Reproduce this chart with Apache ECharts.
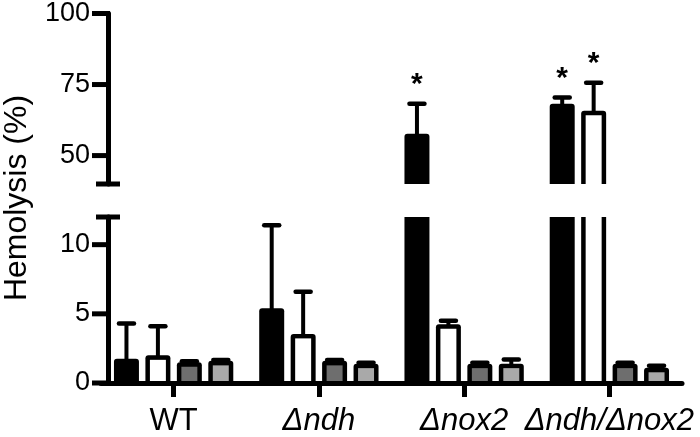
<!DOCTYPE html>
<html>
<head>
<meta charset="utf-8">
<script src="https://cdn.jsdelivr.net/npm/echarts@6/dist/echarts.min.js"></script>
<style>html,body{margin:0;padding:0;background:#fff}#c{width:700px;height:437px}</style>
</head>
<body>
<div id="c"></div>
<script>
// ---- data ----
const categories = ['WT', 'Δndh', 'Δnox2', 'Δndh/Δnox2'];
const conditionNames = ['Condition 1', 'Condition 2', 'Condition 3', 'Condition 4'];
const blackMean = [1.75, 5.4, 57.7, 68.2];
const blackSD   = [2.55, 6.0, 10.5, 2.2];
const whiteMean = [2.0, 3.55, 4.25, 65.8];
const whiteSD   = [2.1, 3.05, 0.25, 9.8];
const darkMean  = [1.5, 1.6, 1.4, 1.4];
const darkSD    = [0.08, 0.06, 0.06, 0.06];
const lightMean = [1.6, 1.4, 1.4, 1.1];
const lightSD   = [0.06, 0.06, 0.3, 0.15];
const blackSig  = [0, 0, 1, 1];
const whiteSig  = [0, 0, 0, 1];
const darkSig   = [0, 0, 0, 0];
const lightSig  = [0, 0, 0, 0];
const upperTicks = [50, 75, 100];
const lowerTicks = [0, 5, 10];
const upperRange = [40, 100];
const lowerRange = [0, 12];
const yTitle = 'Hemolysis (%)';

// ---- styling / layout ----
const FONT = '"Liberation Sans", Arial, Helvetica, sans-serif';
const fills = [null, '#ffffff', '#6e6e6e', '#a9a9a9'];
const GL = 101, GR = 18, YOFF = -7;
const grids = [
  { left: GL, right: GR, top: 13, height: 171 },
  { left: GL, right: GR, top: 217, height: 171 }
];
const ranges = [upperRange, lowerRange];

const groups = [
  [blackMean, blackSD, blackSig],
  [whiteMean, whiteSD, whiteSig],
  [darkMean, darkSD, darkSig],
  [lightMean, lightSD, lightSig]
];

function renderer(cond, g) {
  return function (params, api) {
    const cs = params.coordSys;
    const [yMin, yMax] = ranges[g];
    const cat = api.value(0), v = api.value(1), e = api.value(2), sig = api.value(3);
    if (v <= yMin) return null;
    const band = api.size([1, 0])[0];
    const cx = api.coord([cat, yMin])[0] + (cond - 1.5) * band * 0.2165;
    const w = band * 0.172;
    const base = cs.y + cs.height;
    const topVis = v <= yMax;
    const yTop = topVis ? api.coord([cat, v])[1] : cs.y;
    const ch = [];
    ch.push({ type: 'rect', shape: { x: cx - w / 2, y: yTop, width: w, height: base - yTop, r: topVis ? [3, 3, 0, 0] : 0 },
      style: { fill: '#000' } });
    if (cond > 0) {
      const bw = 4.5;
      const it = topVis ? yTop + bw : yTop;
      const ib = g === 1 ? base - 2 : base;
      ch.push({ type: 'rect', shape: { x: cx - w / 2 + bw, y: it, width: w - 2 * bw, height: Math.max(0, ib - it) },
        style: { fill: fills[cond] } });
    }
    if (topVis) {
      const et = v + e;
      if (et <= yMax) {
        const ye = api.coord([cat, et])[1];
        ch.push({ type: 'line', shape: { x1: cx, y1: yTop + 1, x2: cx, y2: ye }, style: { stroke: '#000', lineWidth: 4 } });
        ch.push({ type: 'line', shape: { x1: cx - 7.5, y1: ye, x2: cx + 7.5, y2: ye }, style: { stroke: '#000', lineWidth: 4.5, lineCap: 'round' } });
        if (sig) {
          ch.push({ type: 'text', style: { text: '*', x: cx, y: ye - 19, fill: '#000',
            font: 'bold 30px ' + FONT, align: 'center', verticalAlign: 'middle' } });
        }
      }
    }
    return { type: 'group', children: ch };
  };
}

const series = [];
groups.forEach((grp, cond) => {
  [0, 1].forEach(g => {
    series.push({
      name: conditionNames[cond],
      type: 'custom',
      xAxisIndex: g, yAxisIndex: g,
      renderItem: renderer(cond, g),
      data: categories.map((c, i) => [i, grp[0][i], grp[1][i], grp[2][i]]),
      silent: true,
      z: 3
    });
  });
});

const axisLineStyle = { color: '#000', width: 5 };
const yAxisCommon = (g, ticks) => ({
  type: 'value', gridIndex: g, min: ranges[g][0], max: ranges[g][1], offset: YOFF,
  axisLine: { show: true, lineStyle: axisLineStyle },
  axisTick: { show: false },
  axisLabel: { customValues: ticks, color: '#000', fontSize: 27, fontFamily: FONT, margin: 18 },
  splitLine: { show: false }
});

const option = {
  animation: false,
  backgroundColor: '#fff',
  grid: grids,
  xAxis: [
    { type: 'category', gridIndex: 0, data: categories, show: false },
    { type: 'category', gridIndex: 1, data: categories,
      axisLine: { show: true, lineStyle: axisLineStyle },
      axisTick: { show: true, alignWithLabel: true, length: 14, lineStyle: { color: '#000', width: 5 } },
      axisLabel: { color: '#000', fontSize: 31, fontFamily: FONT, margin: 23, interval: 0,
        formatter: v => v === 'WT' ? v : '{i|' + v + '}',
        rich: { i: { fontStyle: 'italic', fontSize: 31, fontFamily: FONT, color: '#000' } } } }
  ],
  yAxis: [yAxisCommon(0, upperTicks), yAxisCommon(1, lowerTicks)],
  series: series
};

const chart = echarts.init(document.getElementById('c'), null, { renderer: 'canvas' });
chart.setOption(option);

const axX = GL - YOFF;
const gfx = [];
const yc0 = chart.convertToPixel({ yAxisIndex: 0 }, upperRange[0]);
const yc1 = chart.convertToPixel({ yAxisIndex: 1 }, lowerRange[1]);
[yc0, yc1].forEach(y => gfx.push({ type: 'line', shape: { x1: axX - 12, y1: y, x2: axX + 12, y2: y },
  style: { stroke: '#000', lineWidth: 5 }, z: 10 }));
[[0, upperTicks], [1, lowerTicks]].forEach(([idx, ticks]) => {
  ticks.forEach(t => {
    const y = chart.convertToPixel({ yAxisIndex: idx }, t);
    gfx.push({ type: 'line', shape: { x1: axX - 16, y1: y, x2: axX + 2, y2: y },
      style: { stroke: '#000', lineWidth: 5 }, z: 10 });
  });
});
gfx.push({ type: 'text', x: 17, y: 198, rotation: Math.PI / 2,
  style: { text: yTitle, font: '32px ' + FONT, fill: '#000', align: 'center', verticalAlign: 'middle' } });
chart.setOption({ graphic: gfx });
</script>
</body>
</html>
